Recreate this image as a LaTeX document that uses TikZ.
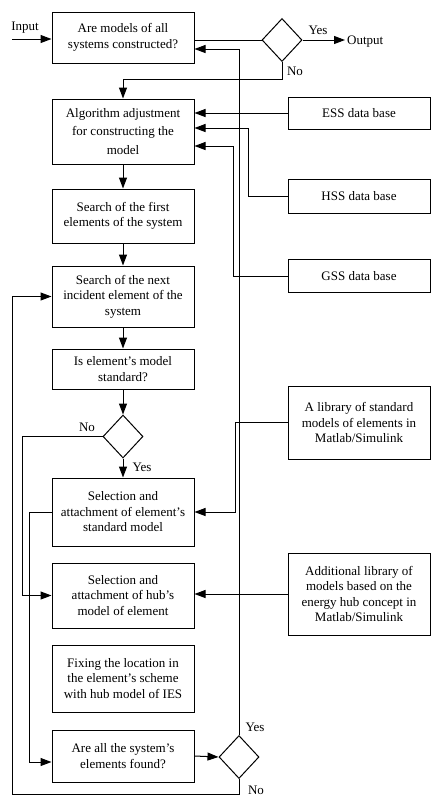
\documentclass[tikz,border=0pt]{standalone}
\usepackage{fontspec}
\setmainfont{Liberation Serif}
\usetikzlibrary{arrows.meta,shapes.geometric}
\begin{document}
\begin{tikzpicture}[x=1pt,y=-1pt,
  every node/.style={font=\fontsize{13}{15.5}\selectfont},
  box/.style={draw,line width=1pt,minimum width=142pt,align=center,inner sep=2pt},
  dia/.style={draw,line width=1pt,diamond,minimum width=40pt,minimum height=43pt,inner sep=0pt},
  lbl/.style={inner sep=1pt},
  arr/.style={line width=1pt,-{Triangle[length=11pt,width=8pt]}},
  ln/.style={line width=1pt}]
\fill[white] (0,0) rectangle (432,796);
\useasboundingbox (0,0) rectangle (432,796);
% main column
\node[box,minimum height=51pt] (b1) at (123,37.5) {Are models of all\\systems constructed?};
\node[box,minimum height=65pt,font=\fontsize{13}{18.5}\selectfont] (b2) at (123,131.5) {Algorithm adjustment\\for constructing the\\model};
\node[box,minimum height=54pt] (b3) at (123,216) {Search of the first\\elements of the system};
\node[box,minimum height=61pt] (b4) at (123,296.5) {Search of the next\\incident element of the\\system};
\node[box,minimum height=40pt] (b5) at (123,369) {Is element’s model\\standard?};
\node[box,minimum height=68pt] (b6) at (123,512) {Selection and\\attachment of element’s\\standard model};
\node[box,minimum height=65pt] (b7) at (123,595.5) {Selection and\\attachment of hub’s\\model of element};
\node[box,minimum height=67pt] (b8) at (123,678.5) {Fixing the location in\\the element’s scheme\\with hub model of IES};
\node[box,minimum height=52pt] (b9) at (123,756) {Are all the system’s\\elements found?};
% right column
\node[box,minimum height=32pt] (ess) at (359,113) {ESS data base};
\node[box,minimum height=34pt] (hss) at (359,196) {HSS data base};
\node[box,minimum height=33pt] (gss) at (359,276) {GSS data base};
\node[box,minimum height=73pt] (lib) at (359,422.5) {A library of standard\\models of elements in\\Matlab/Simulink};
\node[box,minimum height=82pt] (add) at (359,594) {Additional library of\\models based on the\\energy hub concept in\\Matlab/Simulink};
% diamonds
\node[dia] (d1) at (282,40) {};
\node[dia] (d2) at (123,436.5) {};
\node[dia] (d3) at (239,757) {};
% labels
\node[lbl] (tin) at (25,28) {Input};
\node[lbl] (ty1) at (318,30) {Yes};
\node[lbl,anchor=west] (tout) at (346,42) {Output};
\node[lbl] (tn1) at (295,71) {No};
\node[lbl] (tn2) at (87,427) {No};
\node[lbl] (ty2) at (142,467) {Yes};
\node[lbl] (ty3) at (255,727) {Yes};
\node[lbl] (tn3) at (256,790) {No};
% coordinates
\coordinate (cin) at (12,39);
\coordinate (cout) at (345,40);
\coordinate (cno1) at (282,79);
\coordinate (cyes3) at (239,49);
\coordinate (clib) at (235,0);
\coordinate (cl2) at (22,0);
\coordinate (cl6) at (29,0);
\coordinate (cl3) at (12,794);
% connectors
\draw[arr] (cin) -- (cin -| b1.west);
\draw[ln] (d1.west -| b1.east) -- (d1.west);
\draw[arr] (d1.east) -- (cout);
\draw[arr] (d1.south) -- (cno1) -| (b2.north);
\draw[arr] (b2.south) -- (b3.north);
\draw[arr] (b3.south) -- (b4.north);
\draw[arr] (b4.south) -- (b5.north);
\draw[arr] (b5.south) -- (d2.north);
\draw[arr] (d2.south) -- (b6.north);
\draw[arr] (ess.west) -- (ess.west -| b2.east);
\coordinate (h1) at (248,128);
\draw[arr] (hss.west) -| (h1) -- (h1 -| b2.east);
\coordinate (g1) at (233,146);
\draw[arr] (gss.west) -| (g1) -- (g1 -| b2.east);
\draw[arr] (d3.north) -- (cyes3) -- (cyes3 -| b1.east);
\draw[arr] (d3.south) |- (cl3) |- (b4.west);
\draw[arr] (d2.west) -- (d2.west -| cl2) |- (b7.west);
\draw[arr] (lib.west) -- (lib.west -| clib) |- (b6.east);
\draw[arr] (b6.west) -- (b6.west -| cl6) |- ([yshift=-6pt]b9.west);
\draw[arr] (add.west) -- (add.west -| b7.east);
\draw[arr] (b9.east) -- (d3.west);
\end{tikzpicture}
\end{document}
